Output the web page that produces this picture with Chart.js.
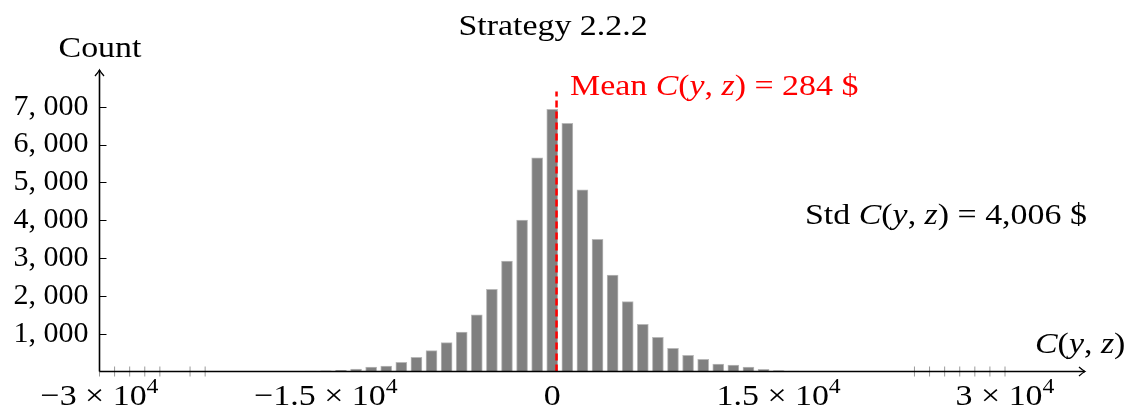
<!DOCTYPE html>
<html>
<head>
<meta charset="utf-8">
<script src="https://cdn.jsdelivr.net/npm/chart.js@4"></script>
<style>
  html, body { margin: 0; padding: 0; background: #fff; }
  #wrap { width: 1139px; height: 413px; position: relative; }
</style>
</head>
<body>
<div id="wrap"><canvas id="hist"></canvas></div>
<script>
// histogram bins (bin centre, $) and counts
const binCenters = [-22000, -21000, -20000, -19000, -18000, -17000, -16000, -15000, -14000, -13000,
  -12000, -11000, -10000, -9000, -8000, -7000, -6000, -5000, -4000, -3000, -2000, -1000,
  0, 1000, 2000, 3000, 4000, 5000, 6000, 7000, 8000, 9000, 10000, 11000, 12000, 13000,
  14000, 15000, 16000, 17000, 18000, 19000, 20000, 21000];
const counts = [1, 2, 2, 3, 4, 6, 10, 16, 30, 66,
  115, 145, 245, 375, 550, 765, 1040, 1495, 2175, 2920, 4005, 5650,
  6930, 6560, 4800, 3495, 2550, 1845, 1250, 905, 615, 430, 322, 198, 168, 115,
  58, 25, 12, 7, 4, 3, 2, 1];
// isolated extreme values, shown as small marks on the axis
const outliers = [-30000, -29000, -28000, -27000, -26000, -24000, -23000,
  24000, 25000, 26000, 27000, 28000, 29000, 30000];
const xTicks = [-30000, -15000, 0, 15000, 30000];
const yTicks = [1000, 2000, 3000, 4000, 5000, 6000, 7000];
const meanValue = 284;
const stdValue = 4006;
const meanLineTop = 7400;

const FONT = '"Liberation Serif", "DejaVu Serif", serif';
const font = (sz, it) => (it ? 'italic ' : '') + sz + 'px ' + FONT;
const SX = 1.13; // widen a bit, closer to the TeX font

// draws a run of text pieces [text, italic, size, dy]
function drawRun(ctx, parts, x, y, color, align) {
  let w = 0;
  parts.forEach(p => { ctx.font = font(p[2] || 30, p[1]); w += ctx.measureText(p[0]).width; });
  let x0 = align === 'center' ? x - w * SX / 2 : x;
  ctx.save();
  ctx.translate(x0, y);
  ctx.scale(SX, 1);
  ctx.fillStyle = color;
  ctx.textBaseline = 'alphabetic';
  ctx.textAlign = 'left';
  let cx = 0;
  parts.forEach(p => {
    ctx.font = font(p[2] || 30, p[1]);
    ctx.fillText(p[0], cx, p[3] || 0);
    cx += ctx.measureText(p[0]).width;
  });
  ctx.restore();
}

const fmtThousands = v => v.toLocaleString('en-US');

const decor = {
  id: 'decor',
  afterDatasetsDraw(chart) {
    const {ctx, chartArea: a, scales: {y}} = chart;
    ctx.save();
    ctx.strokeStyle = '#000';
    ctx.lineWidth = 1.6;
    // axes
    ctx.beginPath();
    ctx.moveTo(a.left, a.bottom); ctx.lineTo(a.right, a.bottom);
    ctx.moveTo(a.left, a.bottom); ctx.lineTo(a.left, a.top);
    ctx.stroke();
    ctx.lineWidth = 1.3;
    ctx.beginPath();
    ctx.moveTo(a.right - 6, a.bottom - 4.5); ctx.quadraticCurveTo(a.right - 2, a.bottom - 1, a.right, a.bottom);
    ctx.quadraticCurveTo(a.right - 2, a.bottom + 1, a.right - 6, a.bottom + 4.5);
    ctx.moveTo(a.left - 4.5, a.top + 6); ctx.quadraticCurveTo(a.left - 1, a.top + 2, a.left, a.top);
    ctx.quadraticCurveTo(a.left + 1, a.top + 2, a.left + 4.5, a.top + 6);
    ctx.stroke();
    // y tick marks (inside)
    ctx.lineWidth = 1;
    ctx.beginPath();
    yTicks.forEach(v => {
      const py = Math.round(y.getPixelForValue(v)) + 0.5;
      ctx.moveTo(a.left, py); ctx.lineTo(a.left + 7, py);
    });
    ctx.stroke();
    ctx.restore();
  },
  afterDraw(chart) {
    const {ctx, scales: {x}} = chart;
    ctx.save();
    drawRun(ctx, [['Strategy 2.2.2']], 553, 35, '#000', 'center');
    drawRun(ctx, [['Count']], 100, 57, '#000', 'center');
    drawRun(ctx, [['C', true], ['('], ['y', true], [', '], ['z', true], [')']], 1035, 353, '#000');
    drawRun(ctx, [['Mean '], ['C', true], ['('], ['y', true], [', '], ['z', true],
      [') = ' + meanValue + ' $']], 570, 95, '#ff0000');
    drawRun(ctx, [['Std '], ['C', true], ['('], ['y', true], [', '], ['z', true],
      [') = ' + fmtThousands(stdValue) + ' $']], 805, 224, '#000');
    // x tick labels in a × 10^4 form
    xTicks.forEach(v => {
      const px = x.getPixelForValue(v);
      if (v === 0) { drawRun(ctx, [['0']], px, 405, '#000', 'center'); return; }
      const m = (v < 0 ? '\u2212' : '') + (Math.abs(v) / 1e4);
      drawRun(ctx, [[m + ' \u00d7 10'], ['4', false, 21, -12]], px, 405, '#000', 'center');
    });
    ctx.restore();
  }
};

new Chart(document.getElementById('hist'), {
  data: {
    datasets: [
      {
        type: 'line', order: 0,
        data: [{x: meanValue, y: 0}, {x: meanValue, y: meanLineTop}],
        borderColor: '#ff0000', borderWidth: 2.5, borderDash: [7, 4],
        pointRadius: 0, fill: false
      },
      {
        type: 'scatter', order: 1, clip: false,
        data: outliers.map(v => ({x: v, y: 0})),
        pointStyle: 'line', rotation: 90, pointRadius: 5,
        borderColor: '#9a9a9a', borderWidth: 1, backgroundColor: '#9a9a9a'
      },
      {
        type: 'bar', order: 2,
        data: binCenters.map((c, i) => ({x: c, y: counts[i]})),
        backgroundColor: '#808080', borderColor: '#b8b8b8', borderWidth: 1,
        barThickness: 11
      }
    ]
  },
  options: {
    responsive: true, maintainAspectRatio: false, animation: false,
    layout: {padding: {left: 0, right: 54, top: 70, bottom: 41.5}},
    plugins: {legend: {display: false}, tooltip: {enabled: false}},
    scales: {
      x: {
        type: 'linear', display: false, offset: false, min: -30000, max: 35300
      },
      y: {
        type: 'linear', min: 0, max: 7970,
        grid: {display: false, drawTicks: false},
        border: {display: false},
        afterBuildTicks: s => { s.ticks = yTicks.map(v => ({value: v})); },
        afterFit: s => { s.width = 99.5; },
        ticks: {
          padding: 11, color: '#000',
          font: {family: FONT, size: 30},
          callback: v => fmtThousands(v).replace(',', ', ')
        }
      }
    }
  },
  plugins: [decor]
});
</script>
</body>
</html>
